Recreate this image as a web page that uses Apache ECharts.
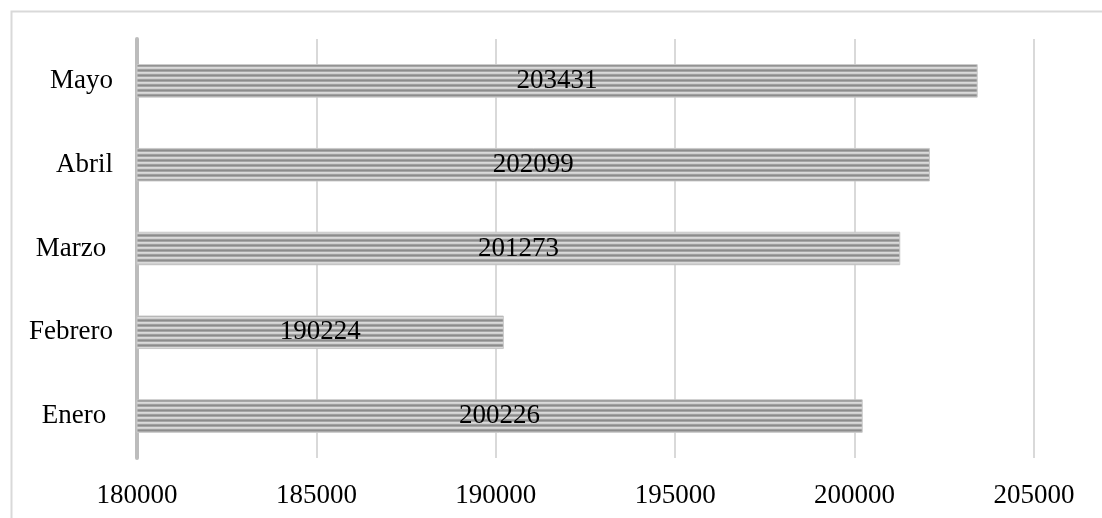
<!DOCTYPE html>
<html>
<head>
<meta charset="utf-8">
<script src="https://cdn.jsdelivr.net/npm/echarts@6/dist/echarts.min.js"></script>
<style>html,body{margin:0;padding:0;background:#fff}#c{width:1102px;height:518px}</style>
</head>
<body>
<div id="c"></div>
<script>
const categories = ['Enero ', 'Febrero', 'Marzo ', 'Abril', 'Mayo'];
const values = [200226, 190224, 201273, 202099, 203431];
const xTicks = [180000, 185000, 190000, 195000, 200000, 205000];

const pat = document.createElement('canvas');
pat.width = 4; pat.height = 5;
const pctx = pat.getContext('2d');
const rows = ['#8c8c8c', '#a6a6a6', '#dadada', '#d0d0d0', '#a0a0a0'];
rows.forEach((c, i) => { pctx.fillStyle = c; pctx.fillRect(0, i, 4, 1); });

const chart = echarts.init(document.getElementById('c'), null, {renderer: 'canvas'});
const font = '"Liberation Serif", "Times New Roman", serif';
chart.setOption({
  animation: false,
  backgroundColor: '#fff',
  graphic: [{
    type: 'rect', left: 9, top: 9, silent: true,
    shape: {width: 1200, height: 600},
    style: {fill: 'none', stroke: '#d9d9d9', lineWidth: 2}
  }],
  grid: {left: 137, right: 68, top: 39, bottom: 60, containLabel: false},
  xAxis: {
    type: 'value', min: xTicks[0], max: xTicks[xTicks.length - 1], interval: 5000,
    axisLine: {show: false}, axisTick: {show: false},
    splitLine: {show: true, showMinLine: false, lineStyle: {color: '#d9d9d9', width: 2}},
    axisLabel: {color: '#000', fontFamily: font, fontSize: 27, margin: 24,
      formatter: v => String(v)}
  },
  yAxis: {
    type: 'category', data: categories,
    axisLine: {show: true, lineStyle: {color: '#bcbcbc', width: 4}},
    axisTick: {show: false},
    axisLabel: {color: '#000', fontFamily: font, fontSize: 27, margin: 24}
  },
  series: [{
    type: 'bar', data: values, barWidth: '40%',
    itemStyle: {color: {image: pat, repeat: 'repeat'}, borderColor: '#c8c8c8', borderWidth: 1},
    label: {show: true, position: 'inside', color: '#000', fontFamily: font, fontSize: 27,
      formatter: p => String(p.value)}
  }]
});
</script>
</body>
</html>
